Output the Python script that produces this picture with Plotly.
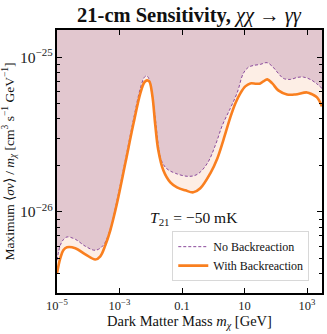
import numpy as np
import plotly.graph_objects as go

# log10 of dark matter mass [GeV] and log10 of max <sigma v>/m_chi
log_mass_nobr = [-5.0, -4.894, -4.798, -4.68, -4.414, -4.094, -3.774, -3.518, -3.29, -3.08,
                 -2.814, -2.558, -2.334, -2.206, -2.142, -2.078, -1.982, -1.854, -1.758, -1.662,
                 -1.502, -1.214, -0.798, -0.51, -0.19, 0.066, 0.29, 0.546, 0.77, 0.962,
                 1.122, 1.282, 1.506, 1.72, 1.89, 2.082, 2.242, 2.466, 2.69, 2.882,
                 3.106, 3.298, 3.48]
log_sv_nobr = [-26.312, -26.215, -26.179, -26.161, -26.176, -26.221, -26.247, -26.215, -26.105, -25.925,
               -25.666, -25.408, -25.202, -25.131, -25.121, -25.131, -25.215, -25.395, -25.570, -25.666,
               -25.718, -25.75, -25.77, -25.757, -25.686, -25.57, -25.441, -25.331, -25.228, -25.105,
               -25.066, -25.054, -25.047, -25.036, -25.06, -25.105, -25.137, -25.144, -25.131, -25.129,
               -25.144, -25.17, -25.202]

log_mass_br = [-5.0, -4.894, -4.798, -4.68, -4.414, -4.094, -3.774, -3.614, -3.454, -3.294,
               -3.08, -2.814, -2.558, -2.334, -2.206, -2.12, -2.046, -1.95, -1.854, -1.758,
               -1.598, -1.374, -1.16, -0.894, -0.638, -0.414, -0.094, 0.13, 0.322, 0.546,
               0.706, 0.866, 1.026, 1.186, 1.378, 1.506, 1.602, 1.73, 1.89, 2.082,
               2.36, 2.626, 3.0, 3.17, 3.32, 3.48]
log_sv_br = [-26.395, -26.298, -26.247, -26.228, -26.234, -26.273, -26.307, -26.286, -26.215, -26.118,
             -25.944, -25.686, -25.434, -25.234, -25.163, -25.15, -25.157, -25.247, -25.441, -25.602,
             -25.731, -25.809, -25.841, -25.86, -25.873, -25.847, -25.75, -25.654, -25.537, -25.389,
             -25.299, -25.234, -25.189, -25.17, -25.172, -25.17, -25.157, -25.144, -25.17, -25.215,
             -25.241, -25.241, -25.228, -25.241, -25.26, -25.318]

x_tick_vals = [1e-5, 1e-3, 0.1, 10, 1e3]
x_tick_text = ["10<sup>−5</sup>", "10<sup>−3</sup>", "0.1", "10", "10<sup>3</sup>"]
x_range_log = [-5.0, 3.48]
y_range_log = [-26.523, -24.825]

m_nobr = 10 ** np.array(log_mass_nobr)
sv_nobr = 10 ** np.array(log_sv_nobr)
m_br = 10 ** np.array(log_mass_br)
sv_br = 10 ** np.array(log_sv_br)
y_top = 10 ** y_range_log[1]

PINK = "#e2c7cf"
PEACH = "#fdeee5"
PURPLE = "#8b4a9b"
ORANGE = "#f97f1f"
FONT = "Liberation Serif"

fig = go.Figure()
# fills
fig.add_trace(go.Scatter(x=m_br, y=sv_br, mode="lines", line=dict(width=0, shape="spline"),
                         showlegend=False, hoverinfo="skip"))
fig.add_trace(go.Scatter(x=m_nobr, y=sv_nobr, mode="lines", line=dict(width=0, shape="spline"),
                         fill="tonexty", fillcolor=PEACH, showlegend=False, hoverinfo="skip"))
fig.add_trace(go.Scatter(x=m_nobr, y=[y_top] * len(m_nobr), mode="lines", line=dict(width=0),
                         fill="tonexty", fillcolor=PINK, showlegend=False, hoverinfo="skip"))
# lines
fig.add_trace(go.Scatter(x=m_nobr, y=sv_nobr, mode="lines", name="No Backreaction",
                         line=dict(color=PURPLE, width=1, dash="3px,2px", shape="spline")))
fig.add_trace(go.Scatter(x=m_br, y=sv_br, mode="lines", name="With Backreaction",
                         line=dict(color=ORANGE, width=2.6, shape="spline")))

fig.add_annotation(x=0.69, y=0.282, xref="paper", yref="paper", yanchor="middle",
                   text="<i>T</i><sub>21</sub> = −50 mK", showarrow=False,
                   font=dict(family=FONT, size=15.5, color="#111"))

axis_common = dict(showgrid=False, zeroline=False, showline=True, linecolor="black",
                   linewidth=1.6, mirror="ticks", ticks="inside", tickcolor="black",
                   tickwidth=1.3, ticklen=5, automargin=False,
                   tickfont=dict(family=FONT, size=12.5, color="#222"))

fig.update_xaxes(type="log", range=x_range_log, tickvals=x_tick_vals, ticktext=x_tick_text,
                 title=dict(text="Dark Matter Mass <i>m<sub>χ</sub></i> [GeV]",
                            font=dict(family=FONT, size=14.5, color="#111"), standoff=0),
                 **axis_common)
fig.update_yaxes(type="log", range=y_range_log, dtick=1, exponentformat="power",
                 minor=dict(ticks="inside", ticklen=3, tickcolor="black", tickwidth=1, dtick="D1"),
                 title=dict(text="Maximum ⟨<i>σv</i>⟩ / <i>m<sub>χ</sub></i> [cm<sup>3</sup> s<sup>−1</sup> GeV<sup>−1</sup>]",
                            font=dict(family=FONT, size=13.5, color="#111"), standoff=4),
                 **axis_common)

fig.update_layout(
    width=327, height=334,
    margin=dict(l=57, r=5, t=30, b=41, autoexpand=False),
    paper_bgcolor="white", plot_bgcolor="white",
    title=dict(text="<b>21-cm Sensitivity,</b> <i>χχ</i> → <i>γγ</i>", x=0.578, xanchor="center",
               y=0.955, yanchor="middle", font=dict(family=FONT, size=20.5, color="#111")),
    legend=dict(x=0.952, y=0.045, xanchor="right", yanchor="bottom", traceorder="normal",
                bgcolor="white", bordercolor="#d8d8d8", borderwidth=1,
                font=dict(family=FONT, size=12, color="#111"), tracegroupgap=0,
                itemwidth=30),
    showlegend=True,
)

fig.write_html("out.html", config={"displayModeBar": False},
               post_script="document.body.style.margin='0px';")
